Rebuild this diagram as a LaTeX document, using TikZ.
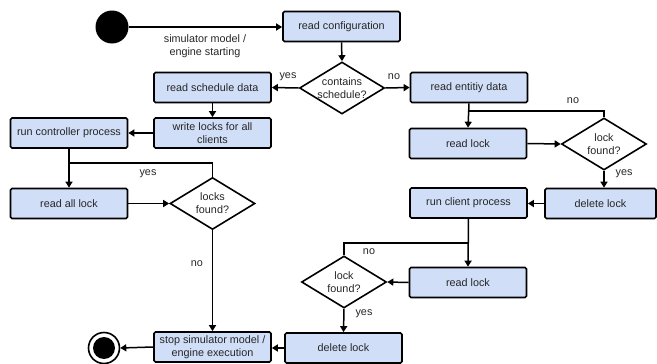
\documentclass[tikz,border=0pt]{standalone}
\usepackage{fontspec}
\setmainfont{Liberation Sans}
\usetikzlibrary{shapes.geometric,arrows.meta}
\definecolor{boxblue}{RGB}{208,222,248}
\tikzset{
  txt/.style={font=\fontsize{10.8}{13}\selectfont, text=black!85, align=center},
  box/.style={txt, draw, fill=boxblue, rounded corners=1.5pt, line width=1.7pt, minimum width=117pt, minimum height=30pt, inner sep=0pt},
  dec/.style={draw, diamond, line width=1.6pt, minimum width=85pt, minimum height=52pt, inner sep=0pt, fill=white},
  arr/.style={line width=1.5pt, -{Triangle[length=6pt,width=7pt]}},
  ln/.style={line width=1.5pt},
  lbl/.style={txt}
}
\begin{document}
\begin{tikzpicture}[x=1pt,y=-1pt]
\useasboundingbox (0,0) rectangle (657,364);
% nodes
\node[circle, fill=black, minimum size=33pt, inner sep=0pt] (start) at (112,27) {};
\node[box] (rc) at (341.5,26.5) {read configuration};
\node[dec] (d1) at (342,88) {};
\node[txt] at (d1) {contains\\schedule?};
\node[box] (rsd) at (212.5,87.5) {read schedule data};
\node[box] (red) at (469,87.5) {read entitiy data};
\node[box] (wl) at (212.5,133) {write locks for all\\clients};
\node[box] (rcp) at (69,133) {run controller process};
\node[box] (ral) at (69,203.5) {read all lock};
\node[dec] (d2) at (212.5,203.5) {};
\node[txt] at (d2) {locks\\found?};
\node[box] (stop) at (212.5,347) {stop simulator model /\\engine execution};
\node[circle, draw, line width=1.6pt, minimum size=31pt, inner sep=0pt] (endc) at (104,348) {};
\node[circle, fill=black, minimum size=22pt, inner sep=0pt] at (endc) {};
\node[box] (rl1) at (468,143.5) {read lock};
\node[dec] (d3) at (604,144) {};
\node[txt] at (d3) {lock\\found?};
\node[box, minimum width=111pt] (dl1) at (600.5,203.5) {delete lock};
\node[box] (rcp2) at (468.5,203) {run client process};
\node[box] (rl2) at (468,282.5) {read lock};
\node[dec] (d4) at (344,282) {};
\node[txt] at (d4) {lock\\found?};
\node[box] (dl2) at (343.5,348) {delete lock};
% coordinates
\coordinate (j1) at (69,163);
\coordinate (j2) at (469,111);
\coordinate (j3) at (468,243);
% connectors
\draw[arr] (start.east) -- (start.east -| rc.west);
\draw[arr] (rc.south) -- (d1.north);
\draw[arr] (d1.west) -- (rsd.east);
\draw[arr] (d1.east) -- (red.west);
\draw[arr] (rsd.south) -- (wl.north);
\draw[arr] (wl.west) -- (rcp.east);
\draw[arr] (rcp.south) -- (ral.north);
\draw[arr] (ral.east) -- (d2.west);
\draw[ln] (d2.north) |- (j1);
\draw[arr] (d2.south) -- (stop.north);
\draw[arr] (stop.west) -- (endc.east);
\draw[arr] (red.south) -- (rl1.north);
\draw[ln] (d3.north) |- (j2);
\draw[arr] (rl1.east) -- (d3.west);
\draw[arr] (d3.south) -- (d3.south |- dl1.north);
\draw[arr] (dl1.west) -- (dl1.west -| rcp2.east);
\draw[arr] (rcp2.south) -- (rl2.north);
\draw[ln] (d4.north) |- (j3);
\draw[arr] (rl2.west) -- (d4.east);
\draw[arr] (d4.south) -- (dl2.north);
\draw[arr] (dl2.west) -- (dl2.west -| stop.east);
% labels
\node[lbl] at (205,46) {simulator model /\\engine starting};
\node[lbl] at (288,77) {yes};
\node[lbl] at (394,77) {no};
\node[lbl] at (148,174) {yes};
\node[lbl] at (197,264) {no};
\node[lbl] at (573,101) {no};
\node[lbl] at (624,174) {yes};
\node[lbl] at (369,252) {no};
\node[lbl] at (364,314) {yes};
\end{tikzpicture}
\end{document}
